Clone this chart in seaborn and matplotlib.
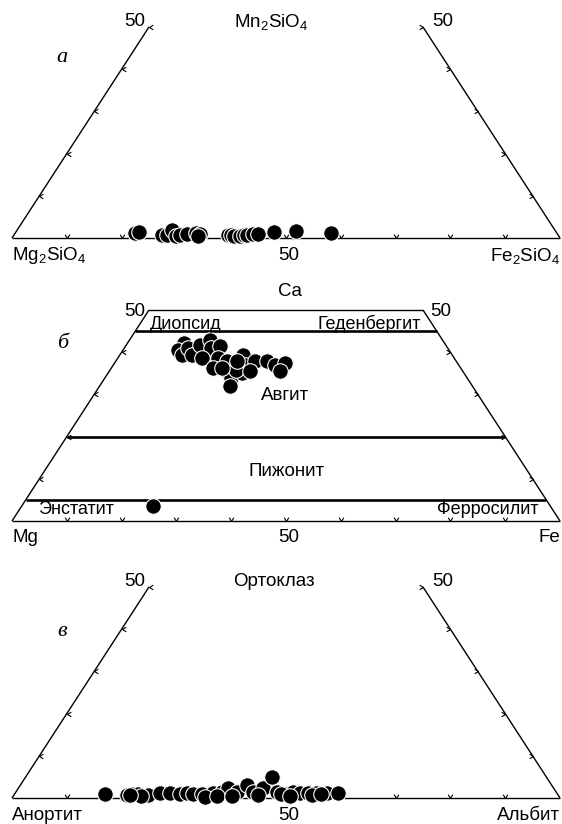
import numpy as np
import matplotlib
matplotlib.use("Agg")
import matplotlib.pyplot as plt
from matplotlib.path import Path
import seaborn as sns

# ---------------- data ----------------
# panel a: olivine  (Mn2SiO4 %, Fe2SiO4 %)
mn_a = [1.2, 1.4, 0.7, 0.7, 1.9, 0.5, 0.7, 0.9, 1.2, 0.9, 0.5, 0.7, 0.7, 0.5, 0.5, 0.7,
        0.7, 0.9, 0.9, 1.4, 1.7, 1.2]
fe_a = [21.8, 22.5, 27.0, 27.9, 28.2, 29.7, 30.3, 31.5, 33.0, 33.9, 33.7, 39.1, 39.6, 40.3,
        41.4, 42.0, 42.5, 43.5, 44.4, 47.2, 51.0, 57.6]

# panel b: pyroxene (Ca %, Fe %)
ca_b = [42.2, 40.6, 39.4, 41.0, 39.4, 41.8, 43.0, 41.0, 41.5, 38.6, 38.6, 36.3, 37.8, 35.5,
        33.9, 31.9, 39.4, 37.0, 35.1, 35.9, 37.8, 37.8, 37.0, 37.4, 35.5, 35.5, 37.8, 36.3, 3.6]
fe_b = [10.2, 10.0, 11.3, 11.6, 13.1, 13.4, 14.6, 15.9, 17.2, 15.3, 18.3, 18.6, 20.3, 21.4,
        23.1, 23.8, 22.5, 24.0, 24.4, 23.0, 25.4, 27.6, 29.5, 31.1, 31.2, 25.7, 22.1, 20.2, 23.9]

# panel v: feldspar (Orthoclase %, Albite %)
or_v = [0.9, 0.7, 0.9, 0.9, 0.7, 1.1, 1.1, 0.9, 1.1, 0.9, 0.9, 1.1, 1.5, 2.3, 1.5, 3.1,
        1.5, 2.3, 4.9, 1.5, 0.9, 1.5, 1.1, 1.1, 1.1, 1.1, 1.1,
        0.2, 0.5, 0.5, 0.7, 0.9, 0.5, 0.7, 0.9, 0.5, 0.7]
ab_v = [16.5, 20.6, 21.7, 22.6, 24.5, 26.5, 28.3, 30.2, 31.3, 32.6, 34.2, 36.2, 37.5, 38.3,
        40.3, 41.3, 43.3, 44.7, 45.0, 47.6, 49.4, 50.6, 52.0, 53.5, 55.0, 56.9, 59.0,
        35.1, 37.2, 39.9, 44.5, 48.6, 50.5, 54.4, 55.9, 23.3, 21.2]

tick_vals = [10, 20, 30, 40, 50, 60, 70, 80, 90]
side_ticks = [10, 20, 30, 40]
pyx_lines = [45, 20, 5]

# ---------------- style ----------------
sns.set_style("white")
plt.rcParams['font.family'] = ['Liberation Sans', 'DejaVu Sans']
plt.rcParams['mathtext.default'] = 'regular'
plt.rcParams['text.color'] = 'black'

W, H = 562, 824
fig = plt.figure(figsize=(W / 100, H / 100), dpi=100)

FS = 13.5


def ftxt(x, y, s, ha='center', **kw):
    kw.setdefault('fontsize', FS)
    kw.setdefault('color', 'black')
    fig.text(x / W, 1 - y / H, s, ha=ha, va='center', **kw)


def chevron(kind):
    if kind == 'base':
        v = [(-0.6, 1.0), (0, 0), (0.6, 1.0)]
    elif kind == 'left':
        v = [(1.0, 0.6), (0, 0), (1.0, -0.6)]
    else:
        v = [(-1.0, 0.6), (0, 0), (-1.0, -0.6)]
    return Path(v, [Path.MOVETO, Path.LINETO, Path.LINETO])


def make_ax(base, top):
    ax = fig.add_axes([12 / W, (H - base) / H, 548 / W, (base - top) / H])
    ax.set_xlim(0, 100)
    ax.set_ylim(0, 50)
    ax.set_axis_off()
    return ax


def frame(ax, top_edge=False, vertex_ticks=True):
    lw = 1.0
    ax.plot([0, 25], [0, 50], color='k', lw=lw, clip_on=False, solid_capstyle='butt')
    ax.plot([100, 75], [0, 50], color='k', lw=lw, clip_on=False, solid_capstyle='butt')
    ax.plot([0, 100], [0, 0], color='k', lw=lw, clip_on=False, solid_capstyle='butt')
    if top_edge:
        ax.plot([25, 75], [50, 50], color='k', lw=lw, clip_on=False)
    st = side_ticks + ([50] if vertex_ticks else [])
    kw = dict(linestyle='none', mfc='none', mec='k', mew=0.8, ms=5.5, clip_on=False)
    ax.plot(tick_vals, [0] * len(tick_vals), marker=chevron('base'), **kw)
    ax.plot([v / 2 for v in st], st, marker=chevron('left'), **kw)
    ax.plot([100 - v / 2 for v in st], st, marker=chevron('right'), **kw)


def points(ax, top_vals, right_vals):
    x = np.array(right_vals) + np.array(top_vals) / 2
    y = np.array(top_vals)
    sns.scatterplot(x=x, y=y, ax=ax, s=125, color='black', edgecolor='white',
                    linewidth=0.8, clip_on=False, zorder=3, legend=False)


# ---------------- panel a ----------------
axa = make_ax(238, 27)
frame(axa)
points(axa, mn_a, fe_a)
ftxt(145, 21, '50', ha='right')
ftxt(271, 22, 'Mn$_2$SiO$_4$')
ftxt(432, 21, '50', ha='left')
ftxt(62, 57, 'а', family='Liberation Serif', style='italic', fontsize=16)
ftxt(12, 256, 'Mg$_2$SiO$_4$', ha='left')
ftxt(289, 256, '50')
ftxt(560, 256, 'Fe$_2$SiO$_4$', ha='right')

# ---------------- panel b ----------------
axb = make_ax(521, 310)
frame(axb, top_edge=True, vertex_ticks=False)
for c in pyx_lines:
    axb.plot([c / 2, 100 - c / 2], [c, c], color='k', lw=1.9, clip_on=False,
             solid_capstyle='butt')
points(axb, ca_b, fe_b)
ftxt(290, 291, 'Ca')
ftxt(145, 311, '50', ha='right')
ftxt(430, 311, '50', ha='left')
ftxt(63, 343, 'б', family='Liberation Serif', style='italic', fontsize=16)
ftxt(150, 324, 'Диопсид', ha='left', fontsize=13)
ftxt(421, 324, 'Геденбергит', ha='right', fontsize=13)
ftxt(285, 395, 'Авгит')
ftxt(287, 471, 'Пижонит')
ftxt(38, 510, 'Энстатит', ha='left', fontsize=13)
ftxt(539, 510, 'Ферросилит', ha='right', fontsize=13)
ftxt(12, 537, 'Mg', ha='left')
ftxt(289, 537, '50')
ftxt(560, 537, 'Fe', ha='right')

# ---------------- panel v ----------------
axv = make_ax(798, 587)
frame(axv)
points(axv, or_v, ab_v)
ftxt(145, 581, '50', ha='right')
ftxt(274, 582, 'Ортоклаз')
ftxt(432, 581, '50', ha='left')
ftxt(62, 632, 'в', family='Liberation Serif', style='italic', fontsize=16)
ftxt(12, 815, 'Анортит', ha='left')
ftxt(289, 815, '50')
ftxt(560, 815, 'Альбит', ha='right')

fig.savefig('out.png', dpi=100, facecolor='white')
